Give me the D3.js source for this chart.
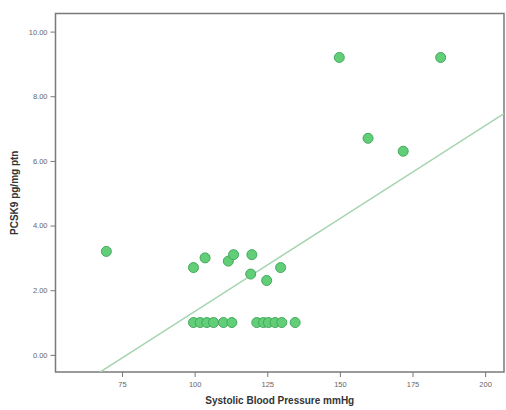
<!DOCTYPE html>
<html><head><meta charset="utf-8">
<script src="https://cdn.jsdelivr.net/npm/d3@7"></script>
<style>html,body{margin:0;padding:0;background:#fff;}</style>
</head><body>
<svg id="c" width="506" height="410"></svg>
<script>
// Data
const sbp   = [69.6, 99.6, 103.6, 111.6, 113.4, 119.7, 119.3, 124.8, 129.6, 149.8, 184.7, 159.7, 171.8,
               99.6, 101.9, 104.2, 106.5, 109.9, 112.8, 121.4, 123.7, 125.4, 127.7, 130.0, 134.6];
const pcsk9 = [3.2, 2.7, 3.0, 2.9, 3.1, 3.1, 2.5, 2.3, 2.7, 9.2, 9.2, 6.7, 6.3,
               1.0, 1.0, 1.0, 1.0, 1.0, 1.0, 1.0, 1.0, 1.0, 1.0, 1.0, 1.0];
const xTicks = [75, 100, 125, 150, 175, 200];
const yTicks = [0, 2, 4, 6, 8, 10];
const fitLine = {slope: 0.0575, intercept: -4.41}; // fit line as drawn
const xTitle = "Systolic Blood Pressure mmHg";
const yTitle = "PCSK9 pg/mg ptn";

const svg = d3.select("#c");
const L = 55.5, R = 504, T = 13.5, B = 372;
const x = d3.scaleLinear().domain([52.1, 206.5]).range([L, R]);
const y = d3.scaleLinear().domain([-0.53, 10.56]).range([B, T]);

svg.append("defs").append("clipPath").attr("id","clip")
  .append("rect").attr("x",L).attr("y",T).attr("width",R-L).attr("height",B-T);

// axes
const xa = svg.append("g").attr("transform",`translate(0,${B})`)
  .call(d3.axisBottom(x).tickValues(xTicks).tickSize(5).tickSizeOuter(0).tickFormat(d3.format("d")));
const ya = svg.append("g").attr("transform",`translate(${L},0)`)
  .call(d3.axisLeft(y).tickValues(yTicks).tickSize(5).tickSizeOuter(0).tickFormat(d3.format(".2f")));
[xa, ya].forEach(g => {
  g.select(".domain").remove();
  g.selectAll("line").attr("stroke","#777").attr("stroke-width",1);
  g.selectAll("text").attr("fill","#666").style("font-family","Arial, 'Liberation Sans', sans-serif").style("font-size","7.5px");
});
xa.selectAll("text").attr("dy","0.9em");

// frame
svg.append("rect").attr("x",L).attr("y",T).attr("width",R-L).attr("height",B-T)
  .attr("fill","none").attr("stroke","#7a7a7a").attr("stroke-width",1.5);

// fit line
const xd = x.domain();
svg.append("line").attr("clip-path","url(#clip)")
  .attr("x1", x(xd[0])).attr("y1", y(fitLine.intercept + fitLine.slope*xd[0]))
  .attr("x2", x(xd[1])).attr("y2", y(fitLine.intercept + fitLine.slope*xd[1]))
  .attr("stroke","#a6d4b0").attr("stroke-width",1.5);

// points
svg.append("g").selectAll("circle").data(sbp.map((v,i)=>[v,pcsk9[i]])).join("circle")
  .attr("cx", d=>x(d[0])).attr("cy", d=>y(d[1])).attr("r",5)
  .attr("fill","#62cf78").attr("stroke","#43a85c").attr("stroke-width",1);

// titles
svg.append("text").attr("x",(L+R)/2).attr("y",404).attr("text-anchor","middle")
  .style("font-family","Arial, 'Liberation Sans', sans-serif").style("font-size","10px").style("font-weight","bold")
  .attr("fill","#333").text(xTitle);
svg.append("text").attr("transform",`translate(18,${(T+B)/2}) rotate(-90)`).attr("text-anchor","middle")
  .style("font-family","Arial, 'Liberation Sans', sans-serif").style("font-size","10px").style("font-weight","bold")
  .attr("fill","#333").text(yTitle);
</script>
</body></html>
